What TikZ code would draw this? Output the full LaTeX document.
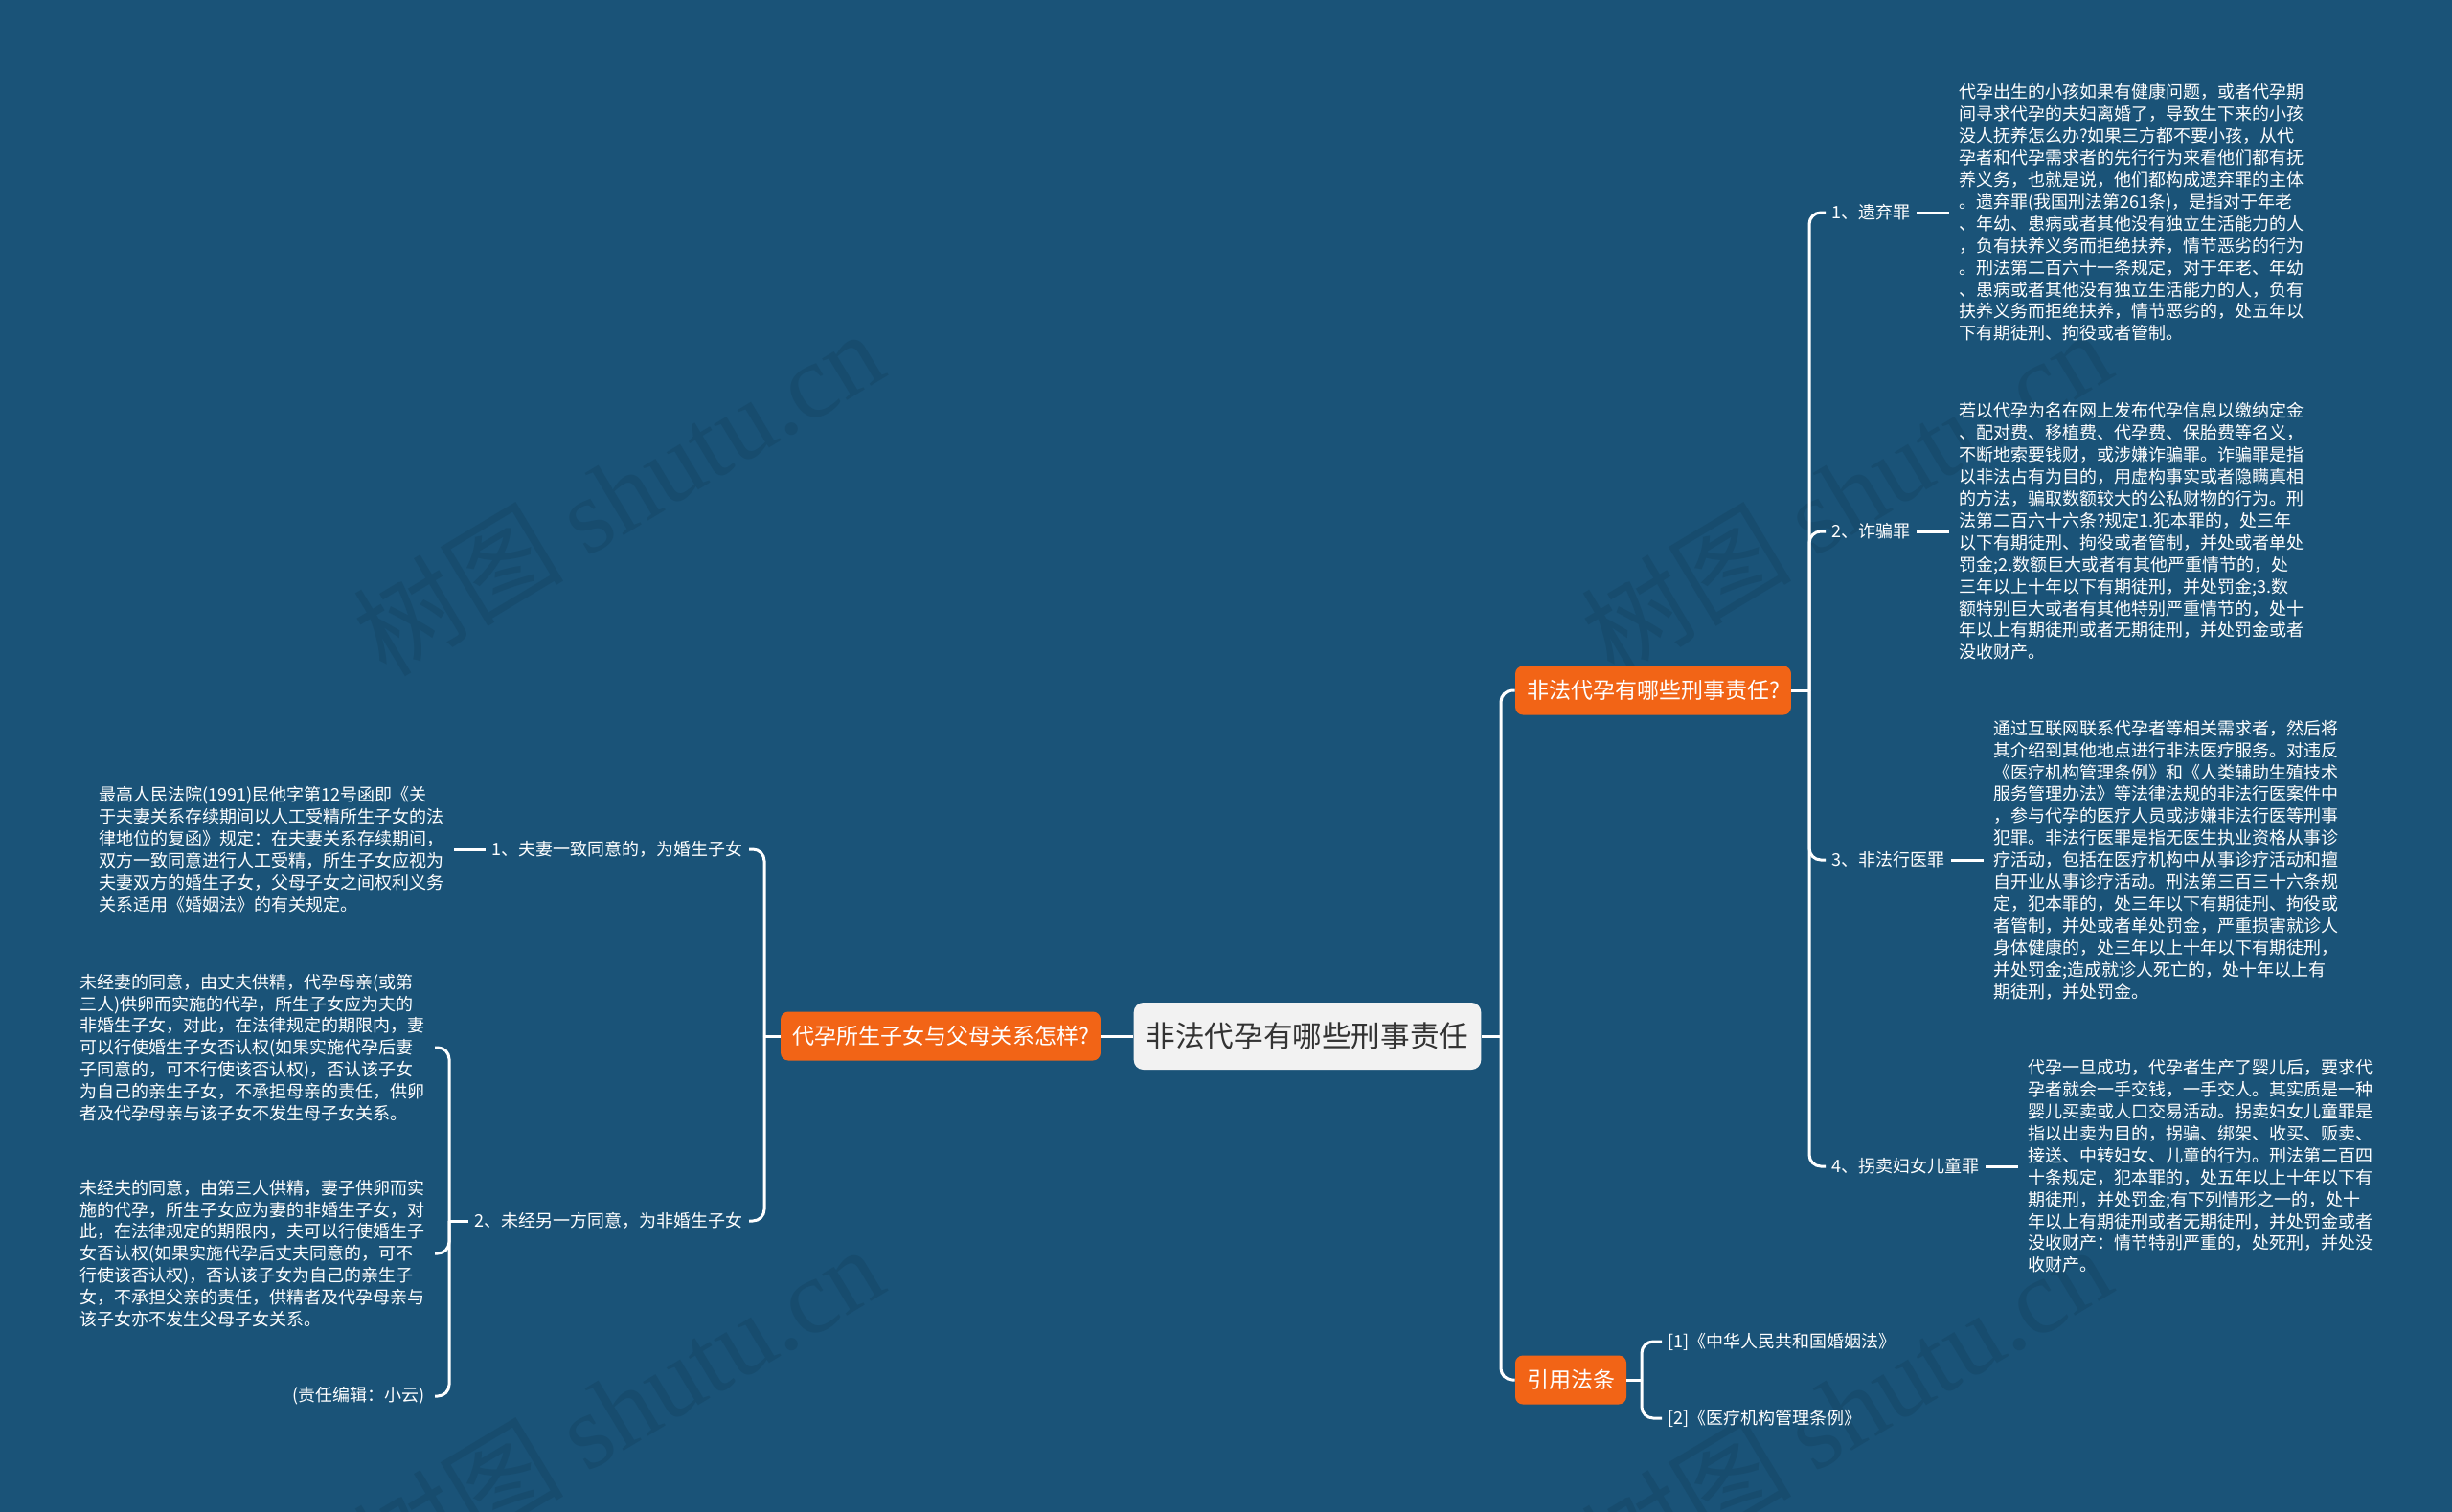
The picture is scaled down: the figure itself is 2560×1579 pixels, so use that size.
\documentclass[tikz,border=0pt]{standalone}
\usepackage{fontspec}
\setmainfont{Noto Sans CJK SC}
\newfontfamily\wmlatin{Liberation Serif}
\definecolor{bg}{RGB}{26,83,120}
\definecolor{orangeC}{RGB}{242,100,22}
\definecolor{rootfill}{RGB}{242,242,242}
\definecolor{darktext}{RGB}{51,51,51}
\definecolor{wm}{RGB}{23,76,110}
\begin{document}
\begin{tikzpicture}[x=0.5pt,y=-0.5pt,
  conn/.style={draw=white, line width=1.5pt, rounded corners=6pt},
  blk/.style={text=white, font=\fontsize{9}{11.45}\selectfont, align=left, inner xsep=5pt, inner ysep=0pt},
  blkr/.style={text=white, font=\fontsize{9}{11.45}\selectfont, align=right, inner xsep=5pt, inner ysep=0pt},
  lab/.style={text=white, font=\fontsize{9}{11}\selectfont, inner xsep=3pt, inner ysep=2pt},
  topic/.style={fill=orangeC, text=white, font=\fontsize{11.5}{13}\selectfont, rounded corners=4pt, minimum height=25.5pt, inner xsep=6pt, inner ysep=0pt},
  rootn/.style={fill=rootfill, text=darktext, font=\fontsize{15.3}{17}\selectfont, rounded corners=5pt, minimum height=35pt, inner xsep=6.5pt, inner ysep=0pt},
  wmark/.style={text=wm, font=\fontsize{55}{60}\selectfont, inner sep=0pt}
]
\fill[bg] (0,0) rectangle (2560,1579);
\useasboundingbox (0,0) rectangle (2560,1579);

% watermarks
\node[wmark, rotate=31] (wm1) at (645,514) {树图 {\wmlatin shutu.cn}};
\node[wmark, rotate=31] (wm2) at (1927,514) {树图 {\wmlatin shutu.cn}};
\node[wmark, rotate=31] (wm3) at (645,1470) {树图 {\wmlatin shutu.cn}};
\node[wmark, rotate=31] (wm4) at (1927,1470) {树图 {\wmlatin shutu.cn}};

% main nodes
\node[rootn] (root) at (1365,1082) {非法代孕有哪些刑事责任};
\node[topic] (lq) at (982,1082) {代孕所生子女与父母关系怎样?};
\node[topic] (rq) at (1726,721) {非法代孕有哪些刑事责任?};
\node[topic] (ref) at (1640,1441) {引用法条};

\coordinate (busR) at (1567,1082);
\draw[conn] (root.west) -- (lq.east);
\draw[conn] (root.east) -- (busR);
\draw[conn] (rq.west) -| (busR) |- (ref.west);

% crimes
\coordinate (busC) at (1889,721);
\draw[conn] (rq.east) -- (busC);
\node[lab, anchor=west] (c1) at (1906,222) {1、遗弃罪};
\node[lab, anchor=west] (c2) at (1906,555) {2、诈骗罪};
\node[lab, anchor=west] (c3) at (1906,898) {3、非法行医罪};
\node[lab, anchor=west] (c4) at (1906,1218) {4、拐卖妇女儿童罪};
\foreach \c in {c1,c2,c3,c4} \draw[conn] (busC) |- (\c.west);

\node[blk, anchor=west] (d1) at ([xshift=17pt]c1.east) {代孕出生的小孩如果有健康问题，或者代孕期\\间寻求代孕的夫妇离婚了，导致生下来的小孩\\没人抚养怎么办?如果三方都不要小孩，从代\\孕者和代孕需求者的先行行为来看他们都有抚\\养义务，也就是说，他们都构成遗弃罪的主体\\。遗弃罪(我国刑法第261条)，是指对于年老\\、年幼、患病或者其他没有独立生活能力的人\\，负有扶养义务而拒绝扶养，情节恶劣的行为\\。刑法第二百六十一条规定，对于年老、年幼\\、患病或者其他没有独立生活能力的人，负有\\扶养义务而拒绝扶养，情节恶劣的，处五年以\\下有期徒刑、拘役或者管制。};
\node[blk, anchor=west] (d2) at ([xshift=17pt]c2.east) {若以代孕为名在网上发布代孕信息以缴纳定金\\、配对费、移植费、代孕费、保胎费等名义，\\不断地索要钱财，或涉嫌诈骗罪。诈骗罪是指\\以非法占有为目的，用虚构事实或者隐瞒真相\\的方法，骗取数额较大的公私财物的行为。刑\\法第二百六十六条?规定1.犯本罪的，处三年\\以下有期徒刑、拘役或者管制，并处或者单处\\罚金;2.数额巨大或者有其他严重情节的，处\\三年以上十年以下有期徒刑，并处罚金;3.数\\额特别巨大或者有其他特别严重情节的，处十\\年以上有期徒刑或者无期徒刑，并处罚金或者\\没收财产。};
\node[blk, anchor=west] (d3) at ([xshift=17pt]c3.east) {通过互联网联系代孕者等相关需求者，然后将\\其介绍到其他地点进行非法医疗服务。对违反\\《医疗机构管理条例》和《人类辅助生殖技术\\服务管理办法》等法律法规的非法行医案件中\\，参与代孕的医疗人员或涉嫌非法行医等刑事\\犯罪。非法行医罪是指无医生执业资格从事诊\\疗活动，包括在医疗机构中从事诊疗活动和擅\\自开业从事诊疗活动。刑法第三百三十六条规\\定，犯本罪的，处三年以下有期徒刑、拘役或\\者管制，并处或者单处罚金，严重损害就诊人\\身体健康的，处三年以上十年以下有期徒刑，\\并处罚金;造成就诊人死亡的，处十年以上有\\期徒刑，并处罚金。};
\node[blk, anchor=west] (d4) at ([xshift=17pt]c4.east) {代孕一旦成功，代孕者生产了婴儿后，要求代\\孕者就会一手交钱，一手交人。其实质是一种\\婴儿买卖或人口交易活动。拐卖妇女儿童罪是\\指以出卖为目的，拐骗、绑架、收买、贩卖、\\接送、中转妇女、儿童的行为。刑法第二百四\\十条规定，犯本罪的，处五年以上十年以下有\\期徒刑，并处罚金;有下列情形之一的，处十\\年以上有期徒刑或者无期徒刑，并处罚金或者\\没收财产：情节特别严重的，处死刑，并处没\\收财产。};
\draw[conn] (c1.east) -- (d1.west);
\draw[conn] (c2.east) -- (d2.west);
\draw[conn] (c3.east) -- (d3.west);
\draw[conn] (c4.east) -- (d4.west);

% references
\coordinate (busF) at (1714,1441);
\draw[conn] (ref.east) -- (busF);
\node[lab, anchor=west] (f1) at (1735,1401) {[1]《中华人民共和国婚姻法》};
\node[lab, anchor=west] (f2) at (1735,1481) {[2]《医疗机构管理条例》};
\draw[conn] (busF) |- (f1.west);
\draw[conn] (busF) |- (f2.west);

% left side
\coordinate (busL) at (798,1082);
\draw[conn] (lq.west) -- (busL);
\node[lab, anchor=east] (l1) at (782,887) {1、夫妻一致同意的，为婚生子女};
\node[lab, anchor=east] (l2) at (782,1275) {2、未经另一方同意，为非婚生子女};
\draw[conn] (busL) |- (l1.east);
\draw[conn] (busL) |- (l2.east);

\node[blk, anchor=east] (a1) at ([xshift=-16.5pt]l1.west) {最高人民法院(1991)民他字第12号函即《关\\于夫妻关系存续期间以人工受精所生子女的法\\律地位的复函》规定：在夫妻关系存续期间，\\双方一致同意进行人工受精，所生子女应视为\\夫妻双方的婚生子女，父母子女之间权利义务\\关系适用《婚姻法》的有关规定。};
\draw[conn] (a1.east) -- (l1.west);

\coordinate (busL2) at (469,1275);
\draw[conn] (l2.west) -- (busL2);
\node[blk, anchor=east] (b1) at (454,1094) {未经妻的同意，由丈夫供精，代孕母亲(或第\\三人)供卵而实施的代孕，所生子女应为夫的\\非婚生子女，对此，在法律规定的期限内，妻\\可以行使婚生子女否认权(如果实施代孕后妻\\子同意的，可不行使该否认权)，否认该子女\\为自己的亲生子女，不承担母亲的责任，供卵\\者及代孕母亲与该子女不发生母子女关系。};
\node[blk, anchor=east] (b2) at (454,1309) {未经夫的同意，由第三人供精，妻子供卵而实\\施的代孕，所生子女应为妻的非婚生子女，对\\此，在法律规定的期限内，夫可以行使婚生子\\女否认权(如果实施代孕后丈夫同意的，可不\\行使该否认权)，否认该子女为自己的亲生子\\女，不承担父亲的责任，供精者及代孕母亲与\\该子女亦不发生父母子女关系。};
\node[blkr, anchor=east] (b3) at (454,1458) {(责任编辑：小云)};
\draw[conn] (busL2) |- (b1.east);
\draw[conn] (busL2) |- (b2.east);
\draw[conn] (busL2) |- (b3.east);
\end{tikzpicture}
\end{document}
